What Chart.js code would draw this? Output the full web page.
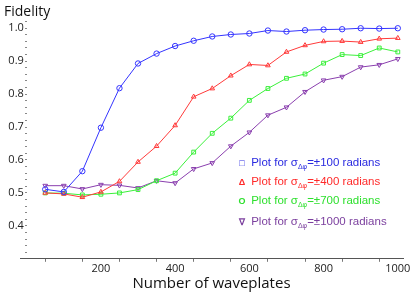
<!DOCTYPE html>
<html>
<head>
<meta charset="utf-8">
<script src="https://cdn.jsdelivr.net/npm/chart.js@4/dist/chart.umd.min.js"></script>
<style>
  html, body { margin: 0; padding: 0; background: #fff; }
  #wrap { position: relative; width: 415px; height: 295px; }
  #ylabel { position: absolute; left: 4px; top: 1px; font: 14px "Open Sans", sans-serif; color: #111; }
  #legend { position: absolute; left: 236px; top: 155px; font: 11.5px "Liberation Sans", Arial, sans-serif; line-height: 15px; }
  #legend div { white-space: nowrap; }
  #legend .m { display: inline-block; width: 12px; text-align: center; font-size: 9px; font-weight: bold; }
  #legend sub { font-size: 7px; vertical-align: -3px; }
</style>
</head>
<body>
<div id="wrap">
  <canvas id="fidelityChart" width="415" height="295"></canvas>
  <div id="ylabel">Fidelity</div>
  <div id="legend">
    <div style="color:#2a2ae0"><span class="m">□</span> Plot for σ<sub>Δφ</sub>=±100 radians</div>
    <div style="color:#ff2a2a"><span class="m">Δ</span> Plot for σ<sub>Δφ</sub>=±400 radians</div>
    <div style="color:#2ee02e"><span class="m">O</span> Plot for σ<sub>Δφ</sub>=±700 radians</div>
    <div style="color:#7b3f9e; margin-top:2px"><span class="m">∇</span> Plot for σ<sub>Δφ</sub>=±1000 radians</div>
  </div>
</div>
<script>
// number of waveplates (x values)
const waveplates = [50, 100, 150, 200, 250, 300, 350, 400, 450, 500,
                    550, 600, 650, 700, 750, 800, 850, 900, 950, 1000];

// fidelity, one array per sigma
const fid100  = [0.511, 0.503, 0.566, 0.698, 0.818, 0.893, 0.923, 0.946, 0.962, 0.975,
                 0.981, 0.984, 0.993, 0.990, 0.994, 0.996, 0.997, 1.000, 0.999, 1.000];
const fid400  = [0.500, 0.497, 0.487, 0.503, 0.535, 0.594, 0.642, 0.705, 0.792, 0.817,
                 0.856, 0.890, 0.887, 0.928, 0.948, 0.960, 0.961, 0.958, 0.968, 0.970];
const fid700  = [0.500, 0.499, 0.494, 0.496, 0.500, 0.510, 0.537, 0.560, 0.624, 0.681,
                 0.727, 0.781, 0.817, 0.848, 0.861, 0.894, 0.920, 0.917, 0.940, 0.928];
const fid1000 = [0.522, 0.522, 0.512, 0.525, 0.523, 0.515, 0.537, 0.530, 0.573, 0.591,
                 0.642, 0.684, 0.736, 0.760, 0.807, 0.842, 0.853, 0.882, 0.889, 0.907];

const xTickValues = [50, 100, 150, 200, 250, 300, 350, 400, 450, 500,
                     550, 600, 650, 700, 750, 800, 850, 900, 950, 1000];
const xTickLabels = [200, 400, 600, 800, 1000];
const yTickLabels = [0.4, 0.5, 0.6, 0.7, 0.8, 0.9, 1.0];

function series(ys) {
  return ys.map((y, i) => ({ x: waveplates[i], y: y }));
}

function makeSet(label, ys, color, style, rotation) {
  return {
    label: label,
    data: series(ys),
    borderColor: color,
    borderWidth: 1,
    pointStyle: style,
    pointRotation: rotation || 0,
    pointRadius: 2.7,
    pointBorderWidth: 1,
    pointBorderColor: color,
    pointBackgroundColor: 'rgba(255,255,255,0)',
    tension: 0
  };
}

const ctx = document.getElementById('fidelityChart').getContext('2d');
new Chart(ctx, {
  type: 'line',
  data: {
    datasets: [
      makeSet('100', fid100, '#3434ff', 'circle'),
      makeSet('400', fid400, '#ff3a3a', 'triangle'),
      makeSet('700', fid700, '#3af03a', 'rect'),
      makeSet('1000', fid1000, '#8a3fae', 'triangle', 180)
    ]
  },
  options: {
    responsive: false,
    animation: false,
    layout: { padding: { left: 20, right: 12, top: 20, bottom: 2 } },
    plugins: {
      legend: { display: false },
      tooltip: { enabled: false }
    },
    scales: {
      x: {
        type: 'linear',
        min: -18,
        max: 1014,
        afterBuildTicks: (scale) => {
          scale.ticks = xTickValues.map(v => ({ value: v }));
        },
        ticks: {
          autoSkip: false,
          maxRotation: 0,
          padding: 0,
          color: '#222',
          font: { family: 'Open Sans', size: 11 },
          callback: (v) => xTickLabels.includes(v) ? String(v) : ''
        },
        grid: {
          drawOnChartArea: false,
          tickLength: 3,
          color: (c) => (c.tick && c.tick.value % 100 === 50) ? '#777' : 'rgba(0,0,0,0)'
        },
        border: { display: true, color: '#555', width: 1 },
        title: {
          display: true,
          text: 'Number of waveplates',
          color: '#111',
          font: { family: 'Open Sans', size: 15 },
          padding: { top: 0, bottom: 0 }
        }
      },
      y: {
        type: 'linear',
        min: 0.3,
        max: 1.025,
        position: { x: 0 },
        afterBuildTicks: (scale) => {
          const t = [];
          for (let i = 16; i <= 51; i++) t.push({ value: i / 50 });
          scale.ticks = t;
        },
        ticks: {
          autoSkip: false,
          padding: 4,
          color: '#222',
          font: { family: 'Open Sans', size: 11 },
          // trailing space keeps the right-aligned labels clear of the axis
          callback: (v) => {
            const hit = yTickLabels.find(l => Math.abs(l - v) < 1e-6);
            return hit !== undefined ? hit.toFixed(1) + ' ' : '';
          }
        },
        grid: {
          drawOnChartArea: false,
          tickLength: 2,
          color: '#888'
        },
        border: { display: false }
      }
    }
  }
});
</script>
</body>
</html>
